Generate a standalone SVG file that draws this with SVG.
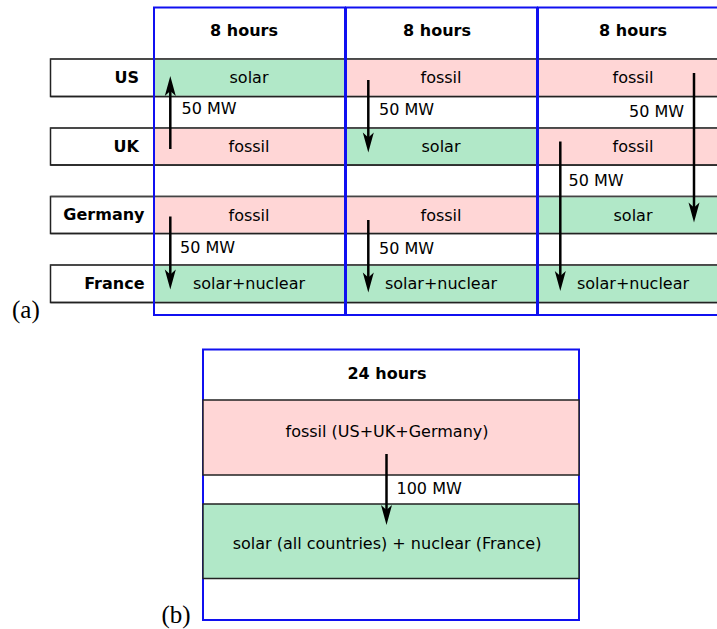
<svg xmlns="http://www.w3.org/2000/svg" width="717" height="629" viewBox="0 0 717 629">
<style>
text{font-family:"DejaVu Sans",Verdana,sans-serif;font-size:16px;fill:#000}
.b{font-weight:bold}
.c{text-anchor:middle}
.e{text-anchor:end}
.lab{font-family:"Liberation Serif","Times New Roman",serif;font-size:25px}
.row{fill:#fff;stroke:#222;stroke-width:1.5}
.g{fill:#b1e8c8}
.p{fill:#ffd6d6}
.col{fill:none;stroke:#1010f0;stroke-width:2}
.ar{stroke:#000;stroke-width:2.5;fill:none;marker-end:url(#ah)}
.box{stroke:#222;stroke-width:1.5}
</style>
<defs>
<marker id="ah" markerUnits="userSpaceOnUse" markerWidth="24" markerHeight="14" viewBox="-22 -7 24 14" refX="-10" refY="0" orient="auto">
<path d="M0,0 L-20,-5.5 L-15,0 L-20,5.5 Z" fill="#000"/>
</marker>
</defs>
<rect width="717" height="629" fill="#fff"/>

<g id="part-a">
<g id="row-us">
<rect class="row" x="50.5" y="59" width="700" height="37.5"/>
<rect class="g" x="154" y="59.75" width="191" height="36"/>
<rect class="p" x="346" y="59.75" width="191" height="36"/>
<rect class="p" x="538" y="59.75" width="191" height="36"/>
<line x1="50.5" y1="59" x2="717" y2="59" stroke="#444" stroke-width="1.5"/>
<line x1="50.5" y1="96.5" x2="717" y2="96.5" stroke="#222" stroke-width="1.5"/>
<text class="b e" x="139" y="83">US</text>
<text class="c" x="249" y="83">solar</text>
<text class="c" x="441" y="83">fossil</text>
<text class="c" x="633" y="83">fossil</text>
</g>
<g id="row-uk">
<rect class="row" x="50.5" y="128" width="700" height="37"/>
<rect class="p" x="154" y="128.75" width="191" height="35.5"/>
<rect class="g" x="346" y="128.75" width="191" height="35.5"/>
<rect class="p" x="538" y="128.75" width="191" height="35.5"/>
<line x1="50.5" y1="128" x2="717" y2="128" stroke="#444" stroke-width="1.5"/>
<line x1="50.5" y1="165" x2="717" y2="165" stroke="#222" stroke-width="1.5"/>
<text class="b e" x="139" y="152">UK</text>
<text class="c" x="249" y="152">fossil</text>
<text class="c" x="441" y="152">solar</text>
<text class="c" x="633" y="152">fossil</text>
</g>
<g id="row-germany">
<rect class="row" x="50.5" y="196.5" width="700" height="37"/>
<rect class="p" x="154" y="197.25" width="191" height="35.5"/>
<rect class="p" x="346" y="197.25" width="191" height="35.5"/>
<rect class="g" x="538" y="197.25" width="191" height="35.5"/>
<line x1="50.5" y1="196.5" x2="717" y2="196.5" stroke="#444" stroke-width="1.5"/>
<line x1="50.5" y1="233.5" x2="717" y2="233.5" stroke="#222" stroke-width="1.5"/>
<text class="b e" x="144.5" y="220">Germany</text>
<text class="c" x="249" y="220.5">fossil</text>
<text class="c" x="441" y="220.5">fossil</text>
<text class="c" x="633" y="220.5">solar</text>
</g>
<g id="row-france">
<rect class="row" x="50.5" y="265" width="700" height="37.5"/>
<rect class="g" x="154" y="265.75" width="191" height="36"/>
<rect class="g" x="346" y="265.75" width="191" height="36"/>
<rect class="g" x="538" y="265.75" width="191" height="36"/>
<line x1="50.5" y1="265" x2="717" y2="265" stroke="#444" stroke-width="1.5"/>
<line x1="50.5" y1="302.5" x2="717" y2="302.5" stroke="#222" stroke-width="1.5"/>
<text class="b e" x="144.5" y="289">France</text>
<text class="c" x="249" y="289">solar+nuclear</text>
<text class="c" x="441" y="289">solar+nuclear</text>
<text class="c" x="633" y="289">solar+nuclear</text>
</g>
<g id="col-1">
<rect class="col" x="154" y="7.5" width="191" height="307.5"/>
<text class="b c" x="244" y="36">8 hours</text>
</g>
<g id="col-2">
<rect class="col" x="346" y="7.5" width="191" height="307.5"/>
<text class="b c" x="437" y="36">8 hours</text>
</g>
<g id="col-3">
<rect class="col" x="538" y="7.5" width="191" height="307.5"/>
<text class="b c" x="633" y="36">8 hours</text>
</g>
<text class="lab" x="12" y="318">(a)</text>
</g>

<g id="part-b">
<g id="period-24h">
<rect class="col" x="203" y="349.5" width="376" height="270.5" fill="#fff"/>
<text class="b c" x="387" y="378.5">24 hours</text>
</g>
<g id="fossil-all">
<rect class="p box" x="203" y="400" width="376" height="75"/>
<text class="c" x="387" y="437">fossil (US+UK+Germany)</text>
</g>
<g id="solar-all">
<rect class="g box" x="203" y="504" width="376" height="74.5"/>
<text class="c" x="387" y="548.5">solar (all countries) + nuclear (France)</text>
</g>
<text class="lab" x="161.5" y="623">(b)</text>
</g>

<g id="connectors">
<line class="ar" x1="170.3" y1="149" x2="170.3" y2="86"/>
<text x="181.5" y="114">50 MW</text>
<line class="ar" x1="170.3" y1="216.5" x2="170.3" y2="279.5"/>
<text x="180" y="253">50 MW</text>
<line class="ar" x1="368.3" y1="80" x2="368.3" y2="142.5"/>
<text x="379" y="115">50 MW</text>
<line class="ar" x1="368.3" y1="220" x2="368.3" y2="282.5"/>
<text x="379" y="254">50 MW</text>
<line class="ar" x1="694" y1="73" x2="694" y2="212.5"/>
<text x="629" y="116.5">50 MW</text>
<line class="ar" x1="560.3" y1="141.5" x2="560.3" y2="281"/>
<text x="568.5" y="185.5">50 MW</text>
<line class="ar" x1="386.5" y1="454" x2="386.5" y2="515"/>
<text x="396.5" y="494">100 MW</text>
</g>
</svg>
